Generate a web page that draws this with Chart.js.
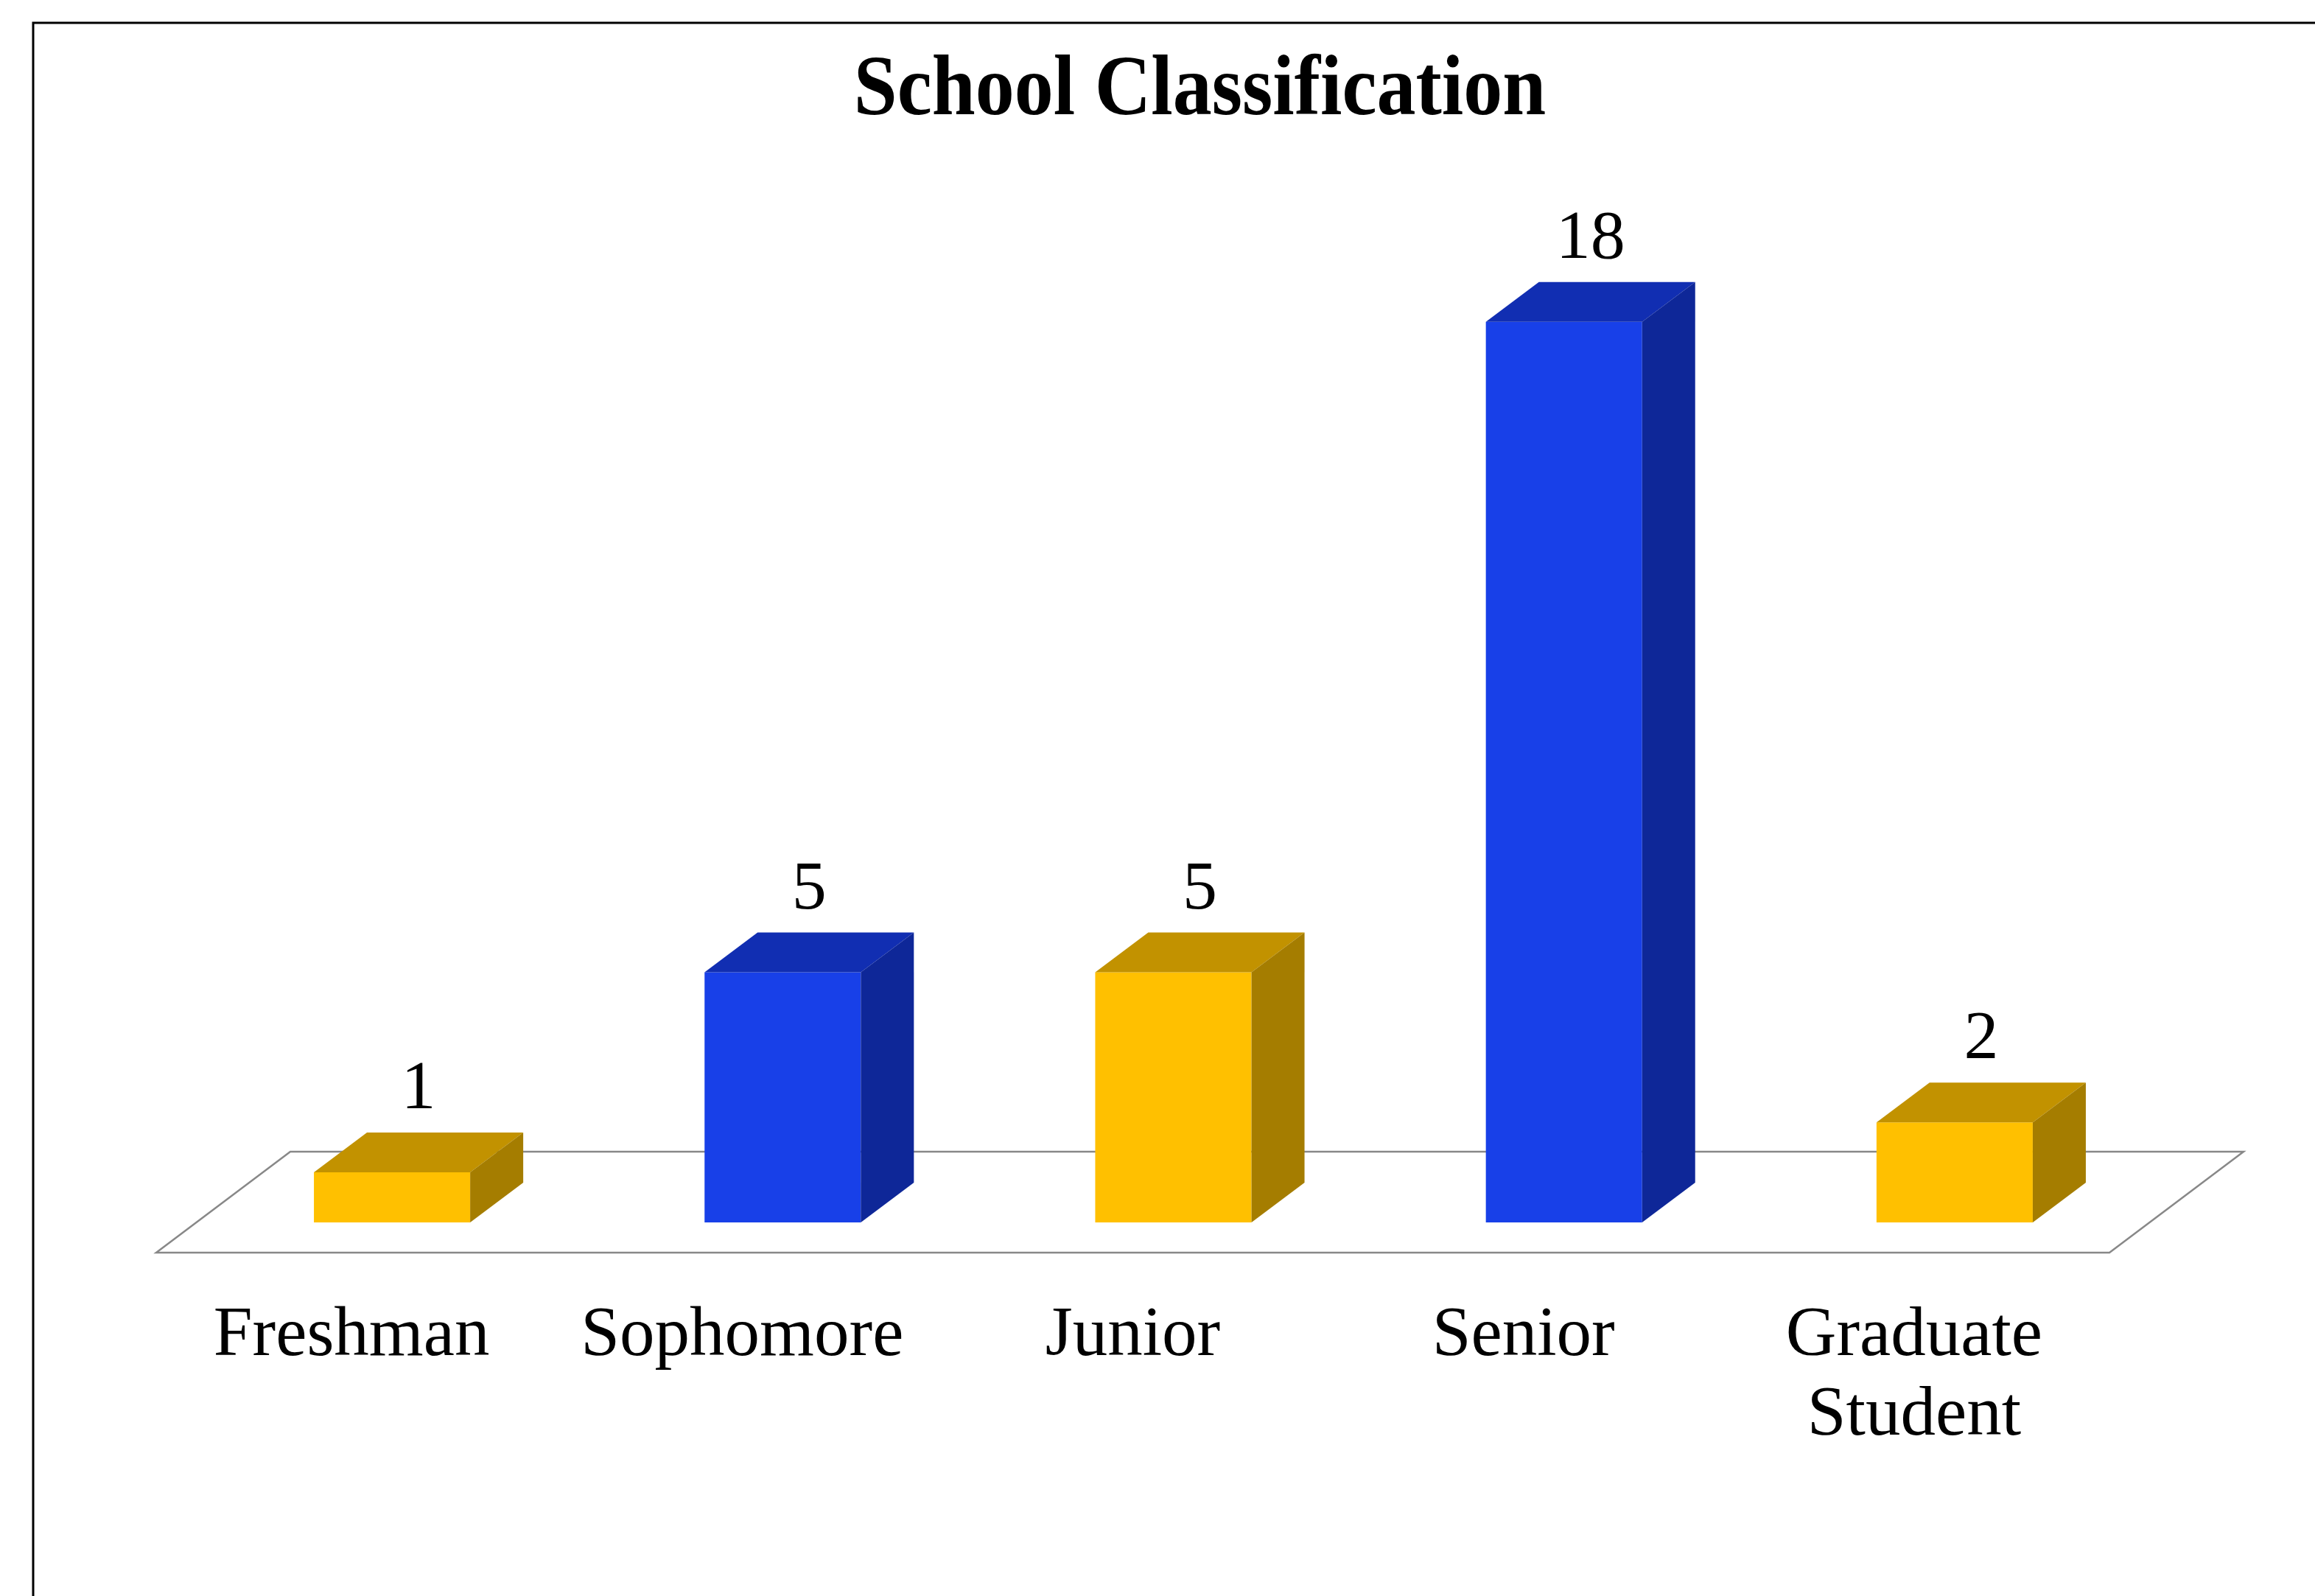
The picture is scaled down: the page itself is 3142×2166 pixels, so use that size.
<!DOCTYPE html>
<html lang="en">

<head>
  <meta charset="UTF-8" />
  <title>School Classification</title>
  <style>
    body { margin: 0; background: #fff; }
    #wrap { width: 3142px; height: 2166px; }
  </style>
</head>

<body>
  <div id="wrap">
    <canvas id="schoolChart" width="3142" height="2166"></canvas>
  </div>

  <script src="https://cdn.jsdelivr.net/npm/chart.js"></script>
  <script>
    // chart data
    const categories = ['Freshman', 'Sophomore', 'Junior', 'Senior', ['Graduate', 'Student']];
    const counts = [1, 5, 5, 18, 2];
    const titleText = 'School Classification';

    // face colours: front / top / side
    const frontColors = ['#FFC000', '#1840E8', '#FFC000', '#1840E8', '#FFC000'];
    const topColors = ['#C29200', '#112EB2', '#C29200', '#112EB2', '#C29200'];
    const sideColors = ['#A57D00', '#0E2798', '#A57D00', '#0E2798', '#A57D00'];

    // 3d look
    const DEPTH_X = 72, DEPTH_Y = 54;   // depth of a bar
    const FLOOR_X = 182, FLOOR_Y = 137; // depth of the floor
    const SHIFT_X = 55, SHIFT_Y = 41;   // bar front sits this far behind the floor front

    const serif = "'Liberation Serif', 'Times New Roman', serif";

    const threeD = {
      id: 'threeD',
      beforeDraw(chart) {
        const ctx = chart.ctx;
        ctx.save();
        // frame
        ctx.strokeStyle = '#000';
        ctx.lineWidth = 3;
        ctx.beginPath();
        ctx.moveTo(45, chart.height);
        ctx.lineTo(45, 31);
        ctx.lineTo(chart.width, 31);
        ctx.stroke();
        ctx.restore();
      },
      beforeDatasetsDraw(chart) {
        const ctx = chart.ctx;
        const area = chart.chartArea;
        const y0 = chart.scales.y.getPixelForValue(0);
        const fl = area.left - SHIFT_X, fr = area.right - SHIFT_X, fy = y0 + SHIFT_Y;
        ctx.save();
        ctx.beginPath();
        ctx.moveTo(fl, fy);
        ctx.lineTo(fr, fy);
        ctx.lineTo(fr + FLOOR_X, fy - FLOOR_Y);
        ctx.lineTo(fl + FLOOR_X, fy - FLOOR_Y);
        ctx.closePath();
        ctx.fillStyle = '#fff';
        ctx.fill();
        ctx.strokeStyle = '#888';
        ctx.lineWidth = 2.5;
        ctx.lineJoin = 'miter';
        ctx.stroke();

        // title, centred over the whole floor
        ctx.fillStyle = '#000';
        ctx.font = 'bold 106px ' + serif;
        ctx.textAlign = 'center';
        ctx.textBaseline = 'alphabetic';
        ctx.translate((fl + fr + FLOOR_X) / 2, 155);
        ctx.scale(1, 1.1);
        ctx.fillText(titleText, 0, 0);
        ctx.restore();
      },
      afterDatasetsDraw(chart) {
        const ctx = chart.ctx;
        const meta = chart.getDatasetMeta(0);
        ctx.save();
        meta.data.forEach((bar, i) => {
          const p = bar.getProps(['x', 'y', 'base', 'width'], true);
          const x1 = p.x - p.width / 2, x2 = p.x + p.width / 2;
          // top face
          ctx.fillStyle = topColors[i];
          ctx.beginPath();
          ctx.moveTo(x1, p.y);
          ctx.lineTo(x1 + DEPTH_X, p.y - DEPTH_Y);
          ctx.lineTo(x2 + DEPTH_X, p.y - DEPTH_Y);
          ctx.lineTo(x2, p.y);
          ctx.closePath();
          ctx.fill();
          // side face
          ctx.fillStyle = sideColors[i];
          ctx.beginPath();
          ctx.moveTo(x2, p.y);
          ctx.lineTo(x2 + DEPTH_X, p.y - DEPTH_Y);
          ctx.lineTo(x2 + DEPTH_X, p.base - DEPTH_Y);
          ctx.lineTo(x2, p.base);
          ctx.closePath();
          ctx.fill();
          // value label
          ctx.fillStyle = '#000';
          ctx.font = '94px ' + serif;
          ctx.textAlign = 'center';
          ctx.textBaseline = 'alphabetic';
          ctx.fillText(String(counts[i]), p.x + DEPTH_X / 2, p.y - DEPTH_Y - 33);
        });
        ctx.restore();
      }
    };

    const ctx = document.getElementById('schoolChart').getContext('2d');
    const schoolChart = new Chart(ctx, {
      type: 'bar',
      data: {
        labels: categories,
        datasets: [{
          label: 'Students',
          data: counts,
          backgroundColor: frontColors,
          borderWidth: 0,
          categoryPercentage: 1.0,
          barPercentage: 0.4
        }]
      },
      options: {
        responsive: false,
        devicePixelRatio: 1,
        animation: false,
        layout: {
          padding: { left: 267, right: 224, top: 301, bottom: 0 }
        },
        plugins: {
          legend: { display: false },
          tooltip: { enabled: false },
          title: { display: false }
        },
        scales: {
          x: {
            grid: { display: false, drawTicks: false },
            border: { display: false },
            ticks: {
              color: '#000',
              font: { family: serif, size: 95, lineHeight: 1.14 },
              padding: 101,
              labelOffset: -SHIFT_X,
              maxRotation: 0,
              autoSkip: false
            },
            afterFit(scale) { scale.height = 507; }
          },
          y: {
            display: false,
            min: 0,
            max: 20
          }
        }
      },
      plugins: [threeD]
    });
  </script>
</body>

</html>
